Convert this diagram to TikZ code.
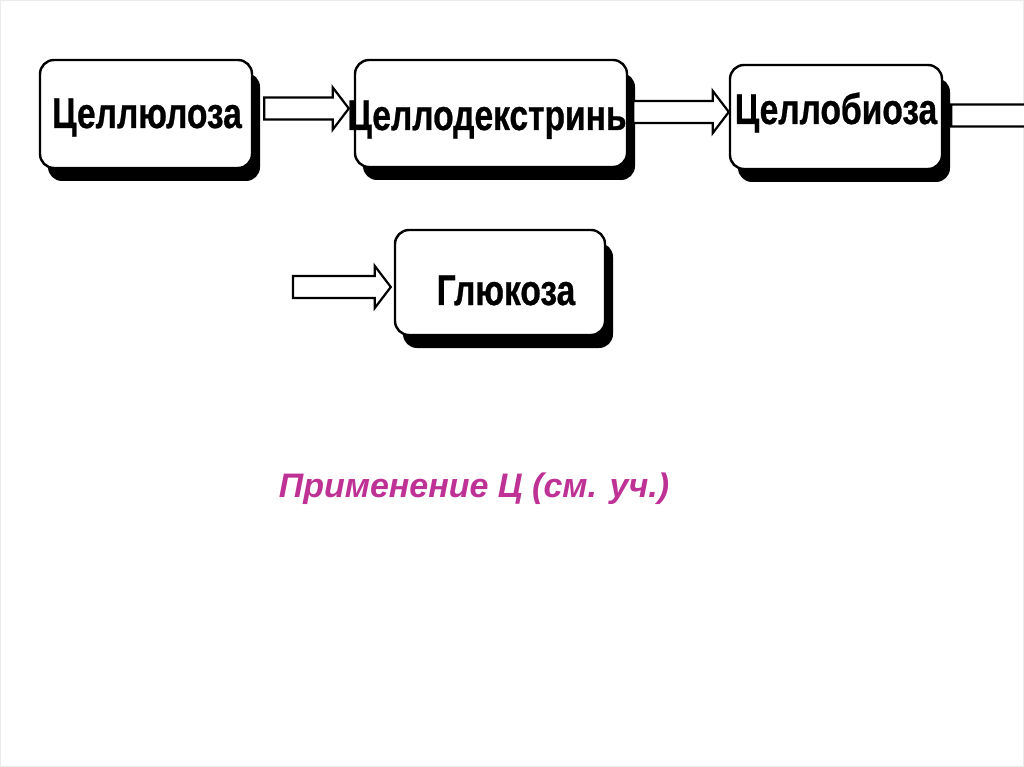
\documentclass[tikz,border=0pt]{standalone}
\usepackage{fontspec}
\setmainfont{Liberation Sans}
\newfontfamily\narrowfont[FakeStretch=0.78,FakeBold=0.6]{Liberation Sans}
\usetikzlibrary{calc,shadows}
\definecolor{lilac}{RGB}{190,50,150}
\tikzset{
  box/.style={draw=black, line width=2.4pt, fill=white, rounded corners=14pt,
    general shadow={fill=black, shadow xshift=8pt, shadow yshift=-13pt}},
  boxtext/.style={font=\narrowfont\bfseries\fontsize{43}{43}\selectfont, anchor=base, inner sep=0pt},
  blockarrow/.style={draw=black, line width=2.2pt, fill=white, to path={
    let \p1=(\tikztostart), \p2=(\tikztotarget) in
    (\x1,\y1-11pt) -- (\x2-16pt,\y1-11pt) -- (\x2-16pt,\y1-21pt) -- (\x2,\y1)
    -- (\x2-16pt,\y1+21pt) -- (\x2-16pt,\y1+11pt) -- (\x1,\y1+11pt) -- cycle}}
}
\begin{document}
\begin{tikzpicture}[x=1pt,y=-1pt]
\useasboundingbox (0,0) rectangle (1024,767);
\clip (0,0) rectangle (1024,767);
\draw[black!8, line width=1pt] (0.5,0.5) rectangle (1023.5,766.5);

\node[box, minimum width=212pt, minimum height=108pt] (c1) at (146,114) {};
\node[box, minimum width=272pt, minimum height=107pt] (c2) at (491,113.5) {};
\node[box, minimum width=212pt, minimum height=104pt] (c3) at (836,117) {};
\node[box, minimum width=210pt, minimum height=105pt] (c4) at (500,282.5) {};

\node[boxtext] (t1) at (147,128) {Целлюлоза};
\node[boxtext] (t2) at (487,130) {Целлодекстринь};
\node[boxtext] (t3) at (836,124) {Целлобиоза};
\node[boxtext] (t4) at (506,305) {Глюкоза};

\coordinate (a3e) at (1060,115.5);
\coordinate (a4s) at (293,287);

\draw[blockarrow] ([xshift=11pt,yshift=5.5pt]c1.east) to ([xshift=-5pt]c2.west);
\draw[blockarrow] ([xshift=5pt,yshift=1.5pt]c2.east) to (c3.west);
\draw[blockarrow] ([xshift=8pt,yshift=1.5pt]c3.east) to (a3e);
\draw[blockarrow] (a4s) to ([xshift=-3pt,yshift=-4.5pt]c4.west);

\node[font=\bfseries\itshape\fontsize{34}{34}\selectfont, text=lilac, anchor=base, inner sep=0pt] (app) at (474,497) {Применение Ц (см. уч.)};
\end{tikzpicture}
\end{document}
